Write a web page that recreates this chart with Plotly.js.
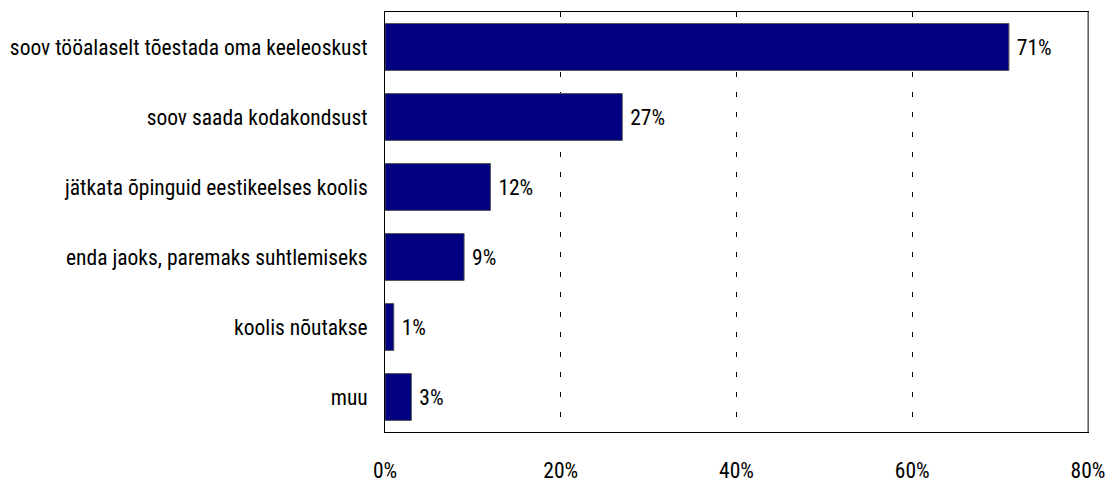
<!DOCTYPE html>
<html>
<head>
<meta charset="utf-8">
<script src="https://cdn.plot.ly/plotly-3.0.1.min.js"></script>
<style>
html,body{margin:0;padding:0;background:#fff;}
#chart{width:1110px;height:482px;}
</style>
</head>
<body>
<div id="chart"></div>
<script>
const categories = [
  "soov tööalaselt tõestada oma keeleoskust",
  "soov saada kodakondsust",
  "jätkata õpinguid eestikeelses koolis",
  "enda jaoks, paremaks suhtlemiseks",
  "koolis nõutakse",
  "muu"
];
const values = [71, 27, 12, 9, 1, 3];
const tickVals = [0, 20, 40, 60, 80];
const tickText = ["0%", "20%", "40%", "60%", "80%"];

const FONT = '"Roboto Condensed", "Open Sans", sans-serif';
const FS = 21.5;

const trace = {
  type: 'bar',
  orientation: 'h',
  y: categories,
  x: values,
  text: values.map(v => '\u00a0' + v + '%'),
  textposition: 'outside',
  cliponaxis: false,
  textfont: {family: FONT, size: FS, color: '#000'},
  marker: {color: '#000080', line: {color: '#555', width: 1}},
  width: 0.67,
  hoverinfo: 'skip'
};

const layout = {
  width: 1110,
  height: 482,
  margin: {l: 385, r: 22, t: 12, b: 50, pad: 0},
  paper_bgcolor: '#fff',
  plot_bgcolor: '#fff',
  showlegend: false,
  font: {family: FONT, size: FS, color: '#000'},
  xaxis: {
    range: [0, 80],
    tickvals: tickVals,
    ticktext: tickText,
    showgrid: true,
    gridcolor: '#000',
    griddash: '5px,15px',
    gridwidth: 1,
    zeroline: false,
    showline: true,
    linecolor: '#000',
    linewidth: 1,
    mirror: true,
    ticks: '',
    ticklabelstandoff: 19,
    tickfont: {family: FONT, size: FS, color: '#000'},
    fixedrange: true
  },
  yaxis: {
    autorange: 'reversed',
    showgrid: false,
    zeroline: false,
    showline: true,
    linecolor: '#000',
    linewidth: 1,
    mirror: true,
    ticks: '',
    ticklabelstandoff: 12,
    tickfont: {family: FONT, size: FS, color: '#000'},
    fixedrange: true
  },
  shapes: [
    {type: 'line', xref: 'paper', yref: 'paper', x0: 1, x1: 1, y0: 0, y1: 1,
     line: {color: '#808080', width: 1.5}}
  ],
  bargap: 0.33
};

Plotly.newPlot('chart', [trace], layout, {displayModeBar: false, staticPlot: true});
</script>
</body>
</html>
